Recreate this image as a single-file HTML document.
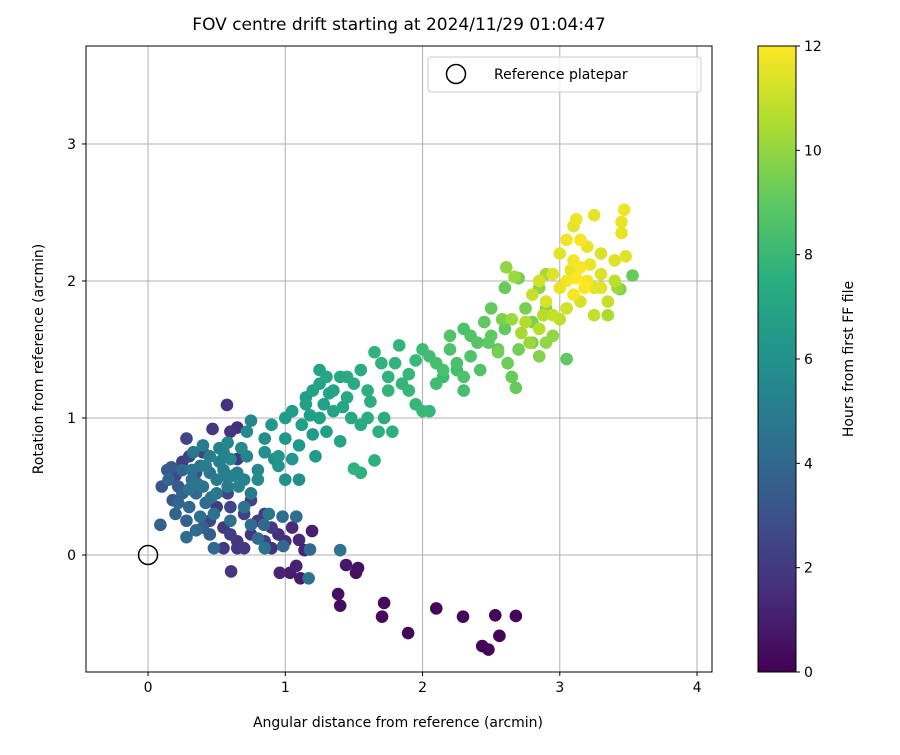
<!DOCTYPE html>
<html><head><meta charset="utf-8"><style>
body{margin:0;background:#fff;font-family:"Liberation Sans","DejaVu Sans",sans-serif}
svg text{font-family:"DejaVu Sans","Liberation Sans",sans-serif}
</style></head><body>
<svg id="c" width="900" height="750" xmlns="http://www.w3.org/2000/svg">
<defs><linearGradient id="vir" x1="0" y1="1" x2="0" y2="0">
<stop offset="0" stop-color="#440154"/><stop offset="0.125" stop-color="#472d7b"/><stop offset="0.25" stop-color="#3b528b"/><stop offset="0.375" stop-color="#2c728e"/><stop offset="0.5" stop-color="#21918c"/><stop offset="0.625" stop-color="#28ae80"/><stop offset="0.75" stop-color="#5ec962"/><stop offset="0.875" stop-color="#addc30"/><stop offset="1" stop-color="#fde725"/></linearGradient></defs>
<rect width="900" height="750" fill="#fff"/>
<text x="399" y="30" font-size="17" text-anchor="middle">FOV centre drift starting at 2024/11/29 01:04:47</text>
<g id="grid"></g><g id="pts"></g><g id="ticks"></g>
<rect x="86" y="46" width="626" height="626" fill="none" stroke="#000" stroke-width="1"/>
<text x="398" y="727" font-size="14" text-anchor="middle">Angular distance from reference (arcmin)</text>
<text transform="translate(43,359) rotate(-90)" font-size="14" text-anchor="middle">Rotation from reference (arcmin)</text>
<g>
<rect x="428" y="57" width="273" height="35" rx="3" fill="#fff" fill-opacity="0.8" stroke="#ccc"/>
<circle cx="456" cy="74" r="9.5" fill="none" stroke="#000" stroke-width="1.5"/>
<text x="494" y="79" font-size="14">Reference platepar</text>
</g>
<rect x="758" y="46" width="38" height="626" fill="url(#vir)" stroke="#000" stroke-width="1"/>
<g id="cbticks"></g>
<text transform="translate(853,359) rotate(-90)" font-size="14" text-anchor="middle">Hours from first FF file</text>
</svg>
<script>
const xTicks=[0,1,2,3,4];
const yTicks=[0,1,2,3];
const cbTicks=[0,2,4,6,8,10,12];
const refPoint=[0,0];
const xs=[1.443,1.53,1.515,1.385,1.40,1.72,1.705,1.895,2.10,2.295,2.435,2.48,2.53,2.56,2.68,1.195,1.14,1.08,1.035,0.96,1.11,1.10,0.605,0.575,1.18,1.17,1.40,1.08,0.98,0.985,0.845,
0.55,0.6,0.65,0.7,0.75,0.8,0.85,0.9,0.95,0.7,0.6,0.5,0.45,0.75,0.65,0.55,0.9,1.0,1.05,0.85,0.58,0.65,0.6,0.65,0.47,0.4,0.3,0.25,0.35,0.2,0.28,
0.1,0.14,0.17,0.09,0.18,0.2,0.15,0.22,0.25,0.3,0.28,0.28,0.35,0.38,0.32,0.35,0.4,0.45,0.5,0.42,0.48,0.5,0.55,0.58,0.6,0.55,0.45,0.38,0.32,0.25,0.48,0.7,0.75,0.8,0.65,0.72,0.68,0.58,0.52,0.4,0.8,0.85,0.88,0.6,0.7,0.45,0.4,0.33,0.22,0.75,
0.85,0.9,0.95,1.0,1.0,1.05,1.1,1.12,1.15,1.2,1.25,1.3,1.28,1.35,1.4,1.45,1.5,1.55,1.6,1.65,1.7,1.75,1.8,1.83,1.85,1.9,1.95,2.0,2.05,1.68,1.78,1.72,1.6,1.55,1.5,1.55,1.65,1.4,1.3,1.2,1.22,1.1,1.0,1.05,0.95,1.35,1.42,1.48,1.18,1.25,0.92,0.8,0.85,0.72,0.75,1.9,1.95,1.75,1.25,
2.0,2.05,2.1,2.1,2.15,2.2,2.2,2.25,2.3,2.3,2.35,2.4,2.42,2.45,2.5,2.5,2.55,2.6,2.6,2.62,2.65,2.68,2.7,2.7,2.75,2.8,2.8,2.85,2.85,2.9,2.95,2.55,2.65,2.72,2.9,2.61,2.67,3.05,3.53,3.44,2.3,2.25,2.15,
2.8,2.85,2.9,2.95,3.0,3.0,3.05,3.05,3.1,3.1,3.12,3.15,3.2,3.2,3.25,3.25,3.3,3.3,3.35,3.4,3.45,3.47,3.45,3.48,3.4,3.1,3.15,2.95,3.05,3.15,3.25,3.35,3.0,2.88,2.75,2.78,3.18,3.12,2.85,2.9,3.42,
0.42,0.52,0.62,0.3,0.36,0.46,0.56,0.66,1.32,1.45,1.62,1.15,2.35,2.48,2.58,3.08,3.22,3.3];
const ys=[-0.073,-0.095,-0.13,-0.285,-0.37,-0.35,-0.45,-0.57,-0.39,-0.45,-0.665,-0.69,-0.44,-0.59,-0.445,0.175,0.035,-0.08,-0.13,-0.13,-0.17,0.11,-0.12,1.095,0.04,-0.17,0.035,0.28,0.28,0.065,0.22,
0.2,0.15,0.1,0.05,0.15,0.25,0.1,0.05,0.15,0.3,0.35,0.35,0.25,0.4,0.05,0.05,0.2,0.1,0.2,0.3,0.45,0.7,0.9,0.93,0.92,0.75,0.72,0.68,0.6,0.58,0.85,
0.5,0.62,0.64,0.22,0.4,0.3,0.55,0.5,0.45,0.35,0.25,0.13,0.18,0.28,0.55,0.45,0.5,0.6,0.55,0.38,0.3,0.45,0.62,0.5,0.7,0.75,0.72,0.65,0.62,0.62,0.05,0.55,0.45,0.62,0.6,0.72,0.78,0.82,0.78,0.8,0.12,0.05,0.3,0.25,0.35,0.15,0.2,0.75,0.38,0.22,
0.75,0.95,0.65,0.85,1.0,1.05,0.8,0.95,1.1,1.2,1.25,1.3,1.1,1.2,1.3,1.15,1.25,1.35,1.2,1.48,1.4,1.3,1.4,1.53,1.25,1.2,1.1,1.05,1.05,0.9,0.9,1.0,1.0,0.95,0.63,0.6,0.69,0.83,0.9,0.88,0.72,0.55,0.55,0.7,0.72,1.05,1.08,1.0,1.02,1.0,0.7,0.55,0.85,0.9,0.98,1.32,1.42,1.2,1.35,
1.5,1.45,1.4,1.25,1.35,1.5,1.6,1.4,1.65,1.3,1.45,1.55,1.35,1.7,1.8,1.6,1.5,1.65,1.95,1.4,1.3,1.22,2.02,1.5,1.8,1.7,1.55,1.45,1.95,1.8,1.6,1.48,1.72,1.62,2.05,2.1,2.03,1.43,2.04,1.94,1.2,1.35,1.3,
1.9,2.0,1.85,2.05,2.2,1.95,2.3,2.0,1.9,2.15,2.45,2.1,2.0,2.25,2.48,1.95,2.05,2.2,1.85,2.0,2.35,2.52,2.43,2.18,2.15,2.4,2.3,1.75,1.8,1.85,1.75,1.75,1.72,1.75,1.7,1.55,1.95,2.02,1.65,1.55,1.95,
0.65,0.68,0.58,0.48,0.52,0.42,0.58,0.5,1.18,1.3,1.12,1.15,1.6,1.55,1.72,2.08,2.12,1.95];
const hours=[0.8,0.6,0.5,0.5,0.4,0.3,0.3,0.2,0.2,0.2,0.1,0.1,0.1,0.1,0.1,1.0,1.2,1.1,1.0,1.2,0.9,1.3,1.8,1.7,4,4.5,4.5,4.2,4.3,4,4,
2,2.2,1.8,2,1.9,2.1,2.3,1.7,1.6,2.4,2.5,2.2,2.6,2.3,1.9,2.0,2.0,1.5,1.4,2.2,2.5,2.0,1.8,1.6,1.9,2.3,2.4,2.2,2.8,2.6,2.5,
3.2,3.4,3.5,3.6,3.3,3.8,3.9,3.5,3.7,4.0,3.8,4.2,4.1,4.3,4.4,4.0,4.6,4.7,4.9,4.2,4.5,4.8,5.2,5.0,5.5,5.4,5.0,4.6,4.5,4.0,4.0,5.3,5.0,5.6,5.2,5.4,5.6,5.5,5.3,5.0,4.3,4.5,4.8,4.4,4.6,3.5,3.6,4.8,3.9,4.2,
6,6.4,6.2,6.3,6.5,6.6,6.4,6.7,6.8,6.9,7,7.1,6.8,7,7.2,7.2,7.3,7.4,7.5,7.8,7.7,7.7,7.8,7.8,7.9,8,8,8.1,8,7.6,7.6,7.4,7.4,7.3,7.7,7.6,7.6,7.0,6.8,6.6,6.5,6.0,6.1,6.3,6.3,7.0,7.1,7.2,6.7,6.8,5.9,5.8,5.9,5.7,5.5,8.0,8.1,7.8,6.9,
8.2,8.3,8.4,8.3,8.5,8.6,8.7,8.5,8.6,8.6,8.7,8.8,8.7,9.0,9.1,9.0,9.0,9.1,9.2,9.3,9.2,9.2,9.4,9.4,9.5,9.6,9.5,9.7,9.9,9.8,10.0,9.5,10.2,10.4,10.4,10.0,10.2,9.0,9.2,9.5,8.4,8.3,8.2,
11,11.2,11.3,11.4,11.5,11.6,11.7,11.8,11.9,11.8,11.7,11.9,11.8,11.6,11.6,11.5,11.4,11.3,11.0,10.8,11.6,11.7,11.6,11.5,11.4,11.5,11.9,11.0,11.2,11.3,10.9,10.5,10.8,10.7,10.6,10.2,12,12,10.7,10.0,10.2,
5.1,5.3,5.2,4.6,4.7,4.4,5.0,5.4,7.0,7.3,7.5,6.6,8.7,9.0,9.6,11.6,11.7,11.5];
const NS='http://www.w3.org/2000/svg';
const X0=86,X1=712,Y0=46,Y1=672,xmin=-0.452,xmax=4.109,ymin=-0.854,ymax=3.715;
const sx=v=>X0+(v-xmin)/(xmax-xmin)*(X1-X0);
const sy=v=>Y1-(v-ymin)/(ymax-ymin)*(Y1-Y0);
const cy=v=>672-v/12*626;
const stops=[[68,1,84],[72,40,120],[62,73,137],[49,104,142],[38,130,142],[31,158,137],[53,183,121],[109,205,89],[180,222,44],[253,231,37]];
function vir(h){let t=Math.max(0,Math.min(1,h/12))*(stops.length-1);let i=Math.min(stops.length-2,Math.floor(t)),f=t-i;
const c=stops[i].map((a,k)=>Math.round(a+(stops[i+1][k]-a)*f));return 'rgb('+c.join(',')+')';}
function mk(tag,at,parent){const e=document.createElementNS(NS,tag);for(const k in at)e.setAttribute(k,at[k]);parent.appendChild(e);return e;}
const grid=document.getElementById('grid'),tk=document.getElementById('ticks'),pts=document.getElementById('pts'),cb=document.getElementById('cbticks');
xTicks.forEach(v=>{const x=sx(v);
const g=mk('line',{x1:x,x2:x,y1:Y0,y2:Y1,stroke:'#b0b0b0','stroke-width':1},grid);


mk('line',{x1:x,x2:x,y1:Y1,y2:Y1+4,stroke:'#000'},tk);
const t=mk('text',{x:x,y:Y1+20,'font-size':14,'text-anchor':'middle'},tk);t.textContent=v;

});
yTicks.forEach(v=>{const y=sy(v);
const g=mk('line',{x1:X0,x2:X1,y1:y,y2:y,stroke:'#b0b0b0','stroke-width':1},grid);


mk('line',{x1:X0-4,x2:X0,y1:y,y2:y,stroke:'#000'},tk);
const t=mk('text',{x:X0-10,y:y+5,'font-size':14,'text-anchor':'end'},tk);t.textContent=v;

});
const idx=hours.map((h,i)=>i).sort((a,b)=>hours[a]-hours[b]);
idx.forEach(i=>{const c=mk('circle',{cx:sx(xs[i]),cy:sy(ys[i]),r:6.3,fill:vir(hours[i])},pts);

});
const rp=mk('circle',{cx:sx(refPoint[0]),cy:sy(refPoint[1]),r:9.5,fill:'none',stroke:'#000','stroke-width':1.5},pts);


cbTicks.forEach(v=>{const y=cy(v);
mk('line',{x1:796,x2:800,y1:y,y2:y,stroke:'#000'},cb);
const t=mk('text',{x:804,y:y+5,'font-size':14},cb);t.textContent=v;

});
</script>
</body></html>
